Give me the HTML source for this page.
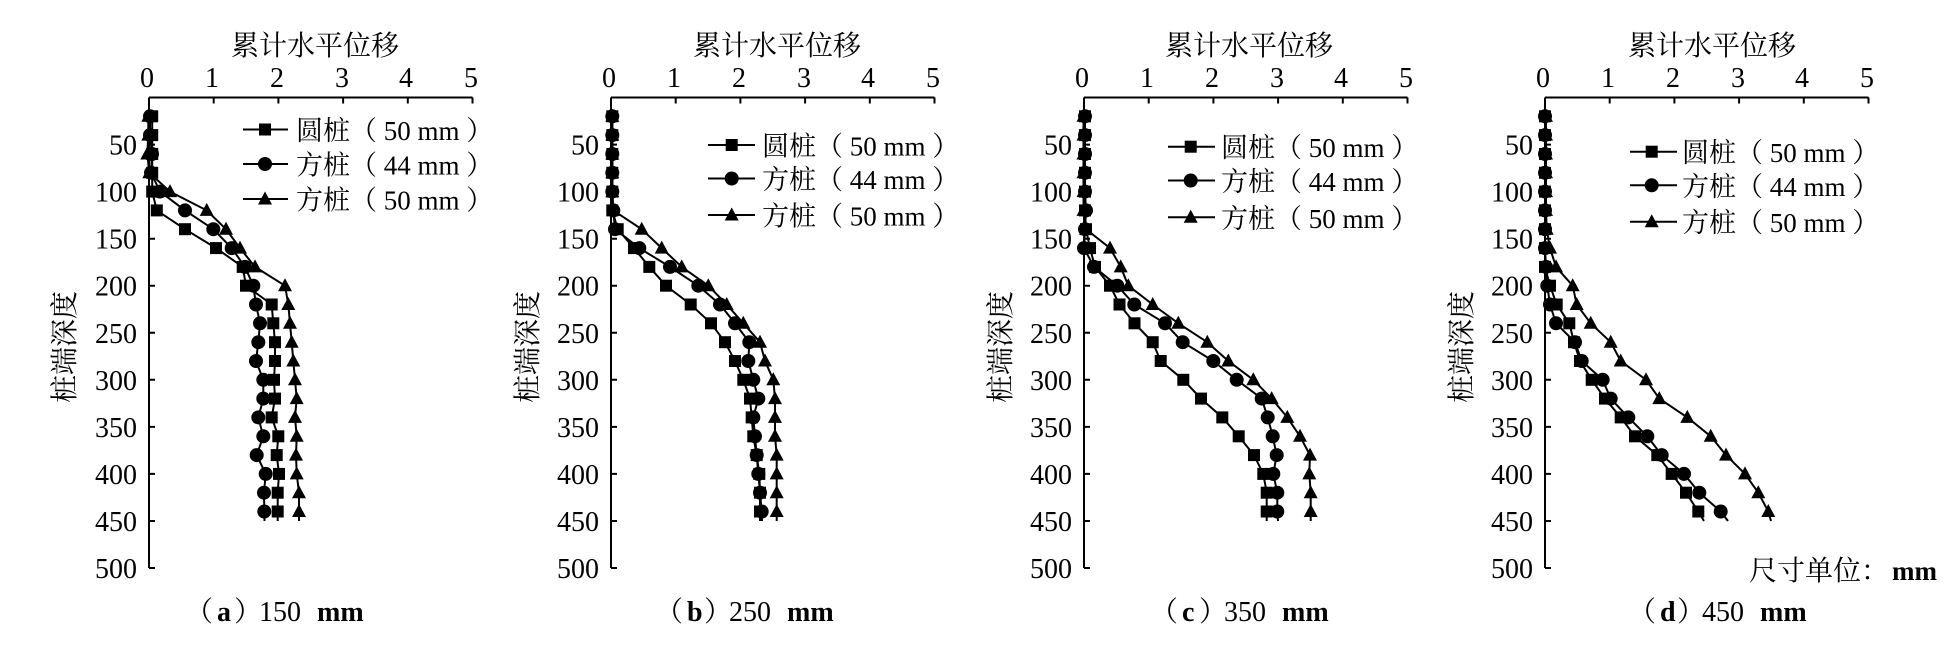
<!DOCTYPE html>
<html>
<head>
<meta charset="utf-8">
<style>
html,body{margin:0;padding:0;background:#fff;}
svg{display:block;}
text{font-family:"Liberation Serif","Noto Serif CJK SC",serif;fill:#000;}
.t{font-size:28px;}
</style>
</head>
<body>
<svg width="1953" height="646" viewBox="0 0 1953 646" xmlns="http://www.w3.org/2000/svg">
<defs>
<marker id="sq" markerWidth="14" markerHeight="14" refX="7" refY="7" markerUnits="userSpaceOnUse" overflow="visible"><rect x="1" y="1" width="12" height="12" fill="#000"/></marker>
<marker id="ci" markerWidth="14" markerHeight="14" refX="7" refY="7" markerUnits="userSpaceOnUse" overflow="visible"><circle cx="7" cy="7" r="7" fill="#000"/></marker>
<marker id="tr" markerWidth="14" markerHeight="14" refX="7" refY="7.5" markerUnits="userSpaceOnUse" overflow="visible"><path d="M7,0 L14,13 L0,13 Z" fill="#000"/></marker>
</defs>

<g fill="none" stroke="#000" stroke-width="2">
<path d="M149,97.5 H472.5 M149,97.5 V568 M213.7,97.5 v6 M278.4,97.5 v6 M343.1,97.5 v6 M407.8,97.5 v6 M472.5,97.5 v6 M149,144.6 h6 M149,191.6 h6 M149,238.7 h6 M149,285.7 h6 M149,332.8 h6 M149,379.8 h6 M149,426.9 h6 M149,473.9 h6 M149,521 h6 M149,568 h6"/>
<path d="M611,97.5 H934.5 M611,97.5 V568 M675.7,97.5 v6 M740.4,97.5 v6 M805.1,97.5 v6 M869.8,97.5 v6 M934.5,97.5 v6 M611,144.6 h6 M611,191.6 h6 M611,238.7 h6 M611,285.7 h6 M611,332.8 h6 M611,379.8 h6 M611,426.9 h6 M611,473.9 h6 M611,521 h6 M611,568 h6"/>
<path d="M1084,97.5 H1407.5 M1084,97.5 V568 M1148.7,97.5 v6 M1213.4,97.5 v6 M1278.1,97.5 v6 M1342.8,97.5 v6 M1407.5,97.5 v6 M1084,144.6 h6 M1084,191.6 h6 M1084,238.7 h6 M1084,285.7 h6 M1084,332.8 h6 M1084,379.8 h6 M1084,426.9 h6 M1084,473.9 h6 M1084,521 h6 M1084,568 h6"/>
<path d="M1545,97.5 H1868.5 M1545,97.5 V568 M1609.7,97.5 v6 M1674.4,97.5 v6 M1739.1,97.5 v6 M1803.8,97.5 v6 M1868.5,97.5 v6 M1545,144.6 h6 M1545,191.6 h6 M1545,238.7 h6 M1545,285.7 h6 M1545,332.8 h6 M1545,379.8 h6 M1545,426.9 h6 M1545,473.9 h6 M1545,521 h6 M1545,568 h6"/>
</g>

<g fill="none" stroke="#000" stroke-width="2" stroke-linejoin="round">
<polyline marker-start="url(#sq)" marker-mid="url(#sq)" points="152.2,116.3 152.2,135.1 152.2,154 152.2,172.8 152.2,191.6 156.8,210.4 185,229.2 216,248.1 242.7,266.9 246,285.7 271.7,304.5 273.3,323.3 275,342.2 275,361 274,379.8 275,398.6 271.7,417.4 278.3,436.3 276.7,455.1 279,473.9 277.7,492.7 277.7,511.5 277.7,521"/>
<polyline marker-start="url(#ci)" marker-mid="url(#ci)" points="150,116.3 150,135.1 152,154 151,172.8 160,191.6 185,210.4 213.3,229.2 231.7,248.1 245,266.9 253.3,285.7 256,304.5 260,323.3 258.3,342.2 256,361 263.3,379.8 263.3,398.6 258.3,417.4 263.3,436.3 256.7,455.1 265.7,473.9 264,492.7 264.3,511.5 264.5,521"/>
<polyline marker-start="url(#tr)" marker-mid="url(#tr)" points="148.3,116.3 148.3,135.1 147.3,154 149.3,172.8 170,191.6 206.7,210.4 226,229.2 240,248.1 255,266.9 285,285.7 288.3,304.5 290,323.3 291.7,342.2 293.3,361 295,379.8 296.7,398.6 295,417.4 296.7,436.3 296,455.1 296.7,473.9 299,492.7 299,511.5 299,521"/>
<polyline marker-start="url(#sq)" marker-mid="url(#sq)" points="612.3,116.3 612.3,135.1 612.3,154 612.3,172.8 612.3,191.6 612.3,210.4 617.7,229.2 634,248.1 649.3,266.9 666,285.7 690.7,304.5 711,323.3 725,342.2 735,361 743.3,379.8 750,398.6 751.7,417.4 753.3,436.3 756.7,455.1 759.3,473.9 760,492.7 760,511.5 760,521"/>
<polyline marker-start="url(#ci)" marker-mid="url(#ci)" points="612.3,116.3 612.3,135.1 612.3,154 612.3,172.8 612.3,191.6 613.3,210.4 615,229.2 639.3,248.1 670,266.9 698.3,285.7 720,304.5 735,323.3 749.3,342.2 748.3,361 753.3,379.8 758.3,398.6 753.3,417.4 755,436.3 756.7,455.1 758.3,473.9 760,492.7 761.7,511.5 762,521"/>
<polyline marker-start="url(#tr)" marker-mid="url(#tr)" points="612.3,116.3 612.3,135.1 612.3,154 612.3,172.8 612.3,191.6 613.3,210.4 641.7,229.2 661.7,248.1 681.7,266.9 708.3,285.7 726.7,304.5 743.3,323.3 760,342.2 765,361 773.3,379.8 775,398.6 775,417.4 775,436.3 776.7,455.1 776.7,473.9 776.7,492.7 776.7,511.5 776.7,521"/>
<polyline marker-start="url(#sq)" marker-mid="url(#sq)" points="1085,116.3 1085,135.1 1085,154 1085,172.8 1085,191.6 1085,210.4 1086,229.2 1090,248.1 1095,266.9 1110,285.7 1119.5,304.5 1134.5,323.3 1152.7,342.2 1160.7,361 1183.3,379.8 1201,398.6 1222.3,417.4 1238.7,436.3 1254,455.1 1263.3,473.9 1266.7,492.7 1266.7,511.5 1266.7,521"/>
<polyline marker-start="url(#ci)" marker-mid="url(#ci)" points="1085,116.3 1085,135.1 1085,154 1085,172.8 1085,191.6 1086,210.4 1085,229.2 1084,248.1 1094,266.9 1117.3,285.7 1134.3,304.5 1165,323.3 1182.7,342.2 1213.3,361 1236.7,379.8 1261.7,398.6 1267.7,417.4 1272.7,436.3 1276.7,455.1 1273.3,473.9 1277.3,492.7 1277.3,511.5 1278,521"/>
<polyline marker-start="url(#tr)" marker-mid="url(#tr)" points="1083.5,116.3 1083.5,135.1 1083.5,154 1083.5,172.8 1083.5,191.6 1083.5,210.4 1086,229.2 1110,248.1 1120.7,266.9 1128.3,285.7 1152.7,304.5 1178.3,323.3 1207.3,342.2 1228.3,361 1253.3,379.8 1271.7,398.6 1287.3,417.4 1300,436.3 1310,455.1 1309.3,473.9 1310.7,492.7 1310.7,511.5 1310.7,521"/>
<polyline marker-start="url(#sq)" marker-mid="url(#sq)" points="1545,116.3 1545,135.1 1545,154 1545,172.8 1545,191.6 1545,210.4 1545,229.2 1545,248.1 1545,266.9 1550,285.7 1556.7,304.5 1569.3,323.3 1574,342.2 1580,361 1591.7,379.8 1605,398.6 1620.7,417.4 1635,436.3 1657.3,455.1 1671.7,473.9 1686,492.7 1698.3,511.5 1704,521"/>
<polyline marker-start="url(#ci)" marker-mid="url(#ci)" points="1545,116.3 1545,135.1 1545,154 1545,172.8 1545,191.6 1545,210.4 1545,229.2 1545,248.1 1546,266.9 1547.3,285.7 1550,304.5 1556,323.3 1575,342.2 1581.7,361 1602.7,379.8 1610.7,398.6 1628.3,417.4 1647.3,436.3 1661.7,455.1 1684,473.9 1699.3,492.7 1720.7,511.5 1728,521"/>
<polyline marker-start="url(#tr)" marker-mid="url(#tr)" points="1546,116.3 1546,135.1 1546,154 1546,172.8 1546,191.6 1546,210.4 1546.7,229.2 1550,248.1 1556,266.9 1572.7,285.7 1576.7,304.5 1590.7,323.3 1610.7,342.2 1620.7,361 1646,379.8 1659.3,398.6 1687.3,417.4 1710.7,436.3 1726,455.1 1745,473.9 1758.3,492.7 1768.3,511.5 1771,521"/>

<polyline marker-mid="url(#sq)" points="243,129.5 265,129.5 288,129.5"/>
<polyline marker-mid="url(#ci)" points="243,164 265,164 288,164"/>
<polyline marker-mid="url(#tr)" points="243,199 265,199 288,199"/>
<polyline marker-mid="url(#sq)" points="708,145 731.7,145 755,145"/>
<polyline marker-mid="url(#ci)" points="708,178.5 731.7,178.5 755,178.5"/>
<polyline marker-mid="url(#tr)" points="708,215 731.7,215 755,215"/>
<polyline marker-mid="url(#sq)" points="1168,146.7 1190.7,146.7 1215,146.7"/>
<polyline marker-mid="url(#ci)" points="1168,180.5 1190.7,180.5 1215,180.5"/>
<polyline marker-mid="url(#tr)" points="1168,217.3 1190.7,217.3 1215,217.3"/>
<polyline marker-mid="url(#sq)" points="1630,151.7 1651.7,151.7 1677,151.7"/>
<polyline marker-mid="url(#ci)" points="1630,185.3 1651.7,185.3 1677,185.3"/>
<polyline marker-mid="url(#tr)" points="1630,221.7 1651.7,221.7 1677,221.7"/>
</g>

<g class="t">
<text x="315" y="55" text-anchor="middle" font-size="28">累计水平位移</text>
<text x="777" y="55" text-anchor="middle" font-size="28">累计水平位移</text>
<text x="1249" y="55" text-anchor="middle" font-size="28">累计水平位移</text>
<text x="1712" y="55" text-anchor="middle" font-size="28">累计水平位移</text>

<g font-size="28" text-anchor="middle">
<text x="147" y="87">0</text><text x="212" y="87">1</text><text x="277" y="87">2</text><text x="342" y="87">3</text><text x="406" y="87">4</text><text x="471" y="87">5</text>
<text x="609" y="87">0</text><text x="674" y="87">1</text><text x="739" y="87">2</text><text x="804" y="87">3</text><text x="868" y="87">4</text><text x="933" y="87">5</text>
<text x="1082" y="87">0</text><text x="1147" y="87">1</text><text x="1212" y="87">2</text><text x="1277" y="87">3</text><text x="1341" y="87">4</text><text x="1406" y="87">5</text>
<text x="1543" y="87">0</text><text x="1608" y="87">1</text><text x="1673" y="87">2</text><text x="1738" y="87">3</text><text x="1802" y="87">4</text><text x="1867" y="87">5</text>
</g>

<g font-size="28" text-anchor="end">
<text x="137" y="154.6">50</text><text x="137" y="201.6">100</text><text x="137" y="248.7">150</text><text x="137" y="295.7">200</text><text x="137" y="342.8">250</text><text x="137" y="389.8">300</text><text x="137" y="436.9">350</text><text x="137" y="483.9">400</text><text x="137" y="531">450</text><text x="137" y="578">500</text>
<text x="599" y="154.6">50</text><text x="599" y="201.6">100</text><text x="599" y="248.7">150</text><text x="599" y="295.7">200</text><text x="599" y="342.8">250</text><text x="599" y="389.8">300</text><text x="599" y="436.9">350</text><text x="599" y="483.9">400</text><text x="599" y="531">450</text><text x="599" y="578">500</text>
<text x="1072" y="154.6">50</text><text x="1072" y="201.6">100</text><text x="1072" y="248.7">150</text><text x="1072" y="295.7">200</text><text x="1072" y="342.8">250</text><text x="1072" y="389.8">300</text><text x="1072" y="436.9">350</text><text x="1072" y="483.9">400</text><text x="1072" y="531">450</text><text x="1072" y="578">500</text>
<text x="1533" y="154.6">50</text><text x="1533" y="201.6">100</text><text x="1533" y="248.7">150</text><text x="1533" y="295.7">200</text><text x="1533" y="342.8">250</text><text x="1533" y="389.8">300</text><text x="1533" y="436.9">350</text><text x="1533" y="483.9">400</text><text x="1533" y="531">450</text><text x="1533" y="578">500</text>
</g>

<text transform="translate(74,347) rotate(-90)" text-anchor="middle" font-size="28">桩端深度</text>
<text transform="translate(537,347) rotate(-90)" text-anchor="middle" font-size="28">桩端深度</text>
<text transform="translate(1010,347) rotate(-90)" text-anchor="middle" font-size="28">桩端深度</text>
<text transform="translate(1471,347) rotate(-90)" text-anchor="middle" font-size="28">桩端深度</text>

<g font-size="27" xml:space="preserve">
<text x="296" y="140">圆桩（ 50 mm ）</text>
<text x="296" y="174.5">方桩（ 44 mm ）</text>
<text x="296" y="209.5">方桩（ 50 mm ）</text>
<text x="762" y="155.5">圆桩（ 50 mm ）</text>
<text x="762" y="189">方桩（ 44 mm ）</text>
<text x="762" y="225.5">方桩（ 50 mm ）</text>
<text x="1221" y="157.2">圆桩（ 50 mm ）</text>
<text x="1221" y="191">方桩（ 44 mm ）</text>
<text x="1221" y="227.8">方桩（ 50 mm ）</text>
<text x="1682" y="162.2">圆桩（ 50 mm ）</text>
<text x="1682" y="195.8">方桩（ 44 mm ）</text>
<text x="1682" y="232.2">方桩（ 50 mm ）</text>
</g>

<g font-size="28">
<text y="621"><tspan x="185">（</tspan><tspan x="217" font-weight="bold">a</tspan><tspan x="234">）</tspan><tspan x="259">150</tspan><tspan x="317" font-weight="bold">mm</tspan></text>
<text y="621"><tspan x="655">（</tspan><tspan x="687" font-weight="bold">b</tspan><tspan x="704">）</tspan><tspan x="729">250</tspan><tspan x="787" font-weight="bold">mm</tspan></text>
<text y="621"><tspan x="1150">（</tspan><tspan x="1182" font-weight="bold">c</tspan><tspan x="1199">）</tspan><tspan x="1224">350</tspan><tspan x="1282" font-weight="bold">mm</tspan></text>
<text y="621"><tspan x="1628">（</tspan><tspan x="1660" font-weight="bold">d</tspan><tspan x="1677">）</tspan><tspan x="1702">450</tspan><tspan x="1760" font-weight="bold">mm</tspan></text>
</g>

<text y="580" font-size="28"><tspan x="1749">尺寸单位：</tspan><tspan x="1892" font-weight="bold" font-size="27">mm</tspan></text>
</g>
</svg>
</body>
</html>
